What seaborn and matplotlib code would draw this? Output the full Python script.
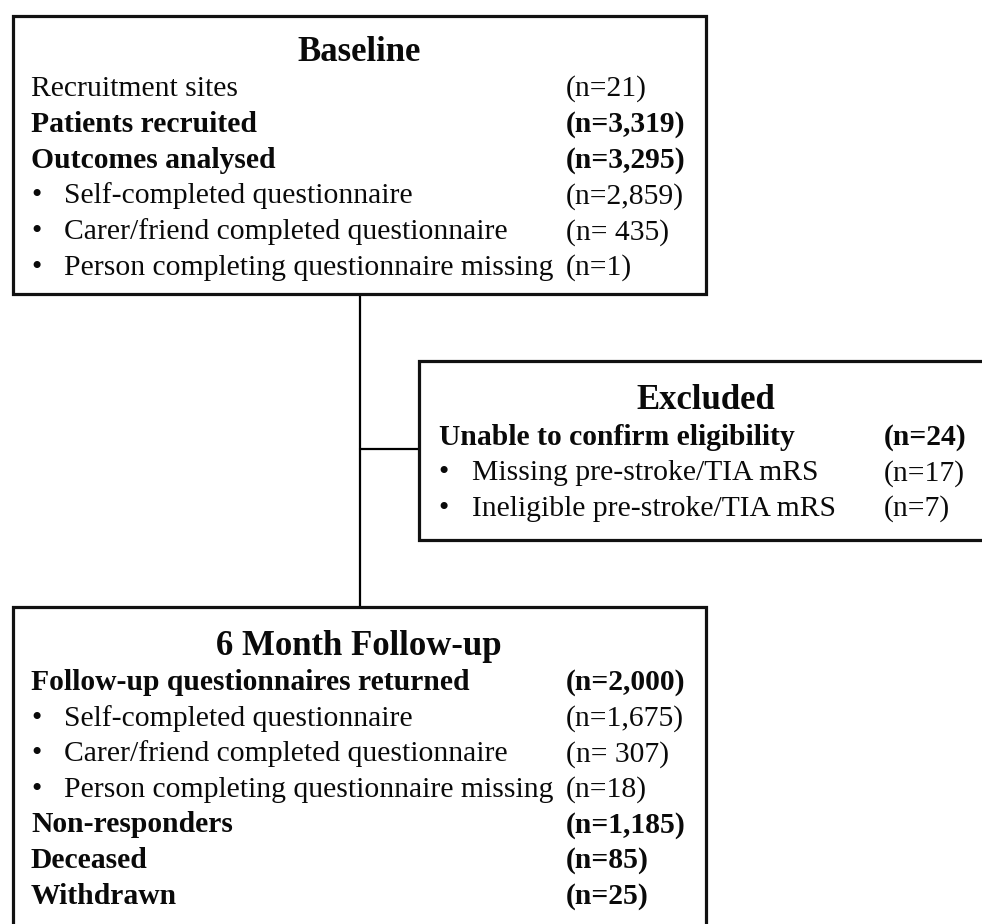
import matplotlib
matplotlib.use("Agg")
import matplotlib.pyplot as plt
from matplotlib.patches import Rectangle
import seaborn as sns
import pandas as pd

# ---------------- data ----------------
baseline_title = "Baseline"
baseline_labels = ["Recruitment sites", "Patients recruited", "Outcomes analysed",
                   "Self-completed questionnaire", "Carer/friend completed questionnaire",
                   "Person completing questionnaire missing"]
baseline_counts = ["(n=21)", "(n=3,319)", "(n=3,295)", "(n=2,859)", "(n= 435)", "(n=1)"]
baseline_bold = [False, True, True, False, False, False]
baseline_bullet = [False, False, False, True, True, True]

excluded_title = "Excluded"
excluded_labels = ["Unable to confirm eligibility", "Missing pre-stroke/TIA mRS",
                   "Ineligible pre-stroke/TIA mRS"]
excluded_counts = ["(n=24)", "(n=17)", "(n=7)"]
excluded_bold = [True, False, False]
excluded_bullet = [False, True, True]

followup_title = "6 Month Follow-up"
followup_labels = ["Follow-up questionnaires returned", "Self-completed questionnaire",
                   "Carer/friend completed questionnaire",
                   "Person completing questionnaire missing", "Non-responders",
                   "Deceased", "Withdrawn"]
followup_counts = ["(n=2,000)", "(n=1,675)", "(n= 307)", "(n=18)", "(n=1,185)",
                   "(n=85)", "(n=25)"]
followup_bold = [True, False, False, False, True, True, True]
followup_bullet = [False, True, True, True, False, False, False]

# ---------------- figure ----------------
sns.set_theme(style="white")
plt.rcParams["font.family"] = ["Liberation Serif", "DejaVu Serif"]

W, H = 982, 924
fig = plt.figure(figsize=(W / 100, H / 100), dpi=100)
ax = fig.add_axes([0, 0, 1, 1])

FS = 21.3
TFS = 25

# connectors via seaborn
conn = pd.DataFrame({"x": [360, 360], "y": [294, 607]})
sns.lineplot(data=conn, x="x", y="y", ax=ax, color="black", linewidth=1.6,
             sort=False, estimator=None, legend=False)
branch = pd.DataFrame({"x": [360, 419], "y": [449, 449]})
sns.lineplot(data=branch, x="x", y="y", ax=ax, color="black", linewidth=1.6,
             sort=False, estimator=None, legend=False)
ax.set_xlim(0, W)
ax.set_ylim(H, 0)
ax.axis("off")


def box(x0, y0, x1, y1):
    ax.add_patch(Rectangle((x0, y0), x1 - x0, y1 - y0, fill=True, facecolor="white",
                           edgecolor="#111111", linewidth=2.3, zorder=3))


def block(title, tx, ty, labels, counts, bold, bullet, x_text, x_bul, x_bul_text,
          x_count, y0, dy):
    ax.text(tx, ty, title, ha="center", va="baseline", fontsize=TFS,
            fontweight="bold", color="#0a0a0a", zorder=5)
    for i, (lab, cnt, b, bu) in enumerate(zip(labels, counts, bold, bullet)):
        y = y0 + i * dy
        w = "bold" if b else "normal"
        if bu:
            ax.text(x_bul, y, "\u2022", ha="left", va="baseline", fontsize=FS,
                    color="#0a0a0a", zorder=5)
            ax.text(x_bul_text, y, lab, ha="left", va="baseline", fontsize=FS,
                    fontweight=w, color="#0a0a0a", zorder=5)
        else:
            ax.text(x_text, y, lab, ha="left", va="baseline", fontsize=FS,
                    fontweight=w, color="#0a0a0a", zorder=5)
        ax.text(x_count, y, cnt, ha="left", va="baseline", fontsize=FS,
                fontweight=w, color="#0a0a0a", zorder=5)


box(13, 16, 706, 294)
block(baseline_title, 359, 61, baseline_labels, baseline_counts, baseline_bold,
      baseline_bullet, 31, 31, 64, 566, 96, 35.8)

box(419, 361, 995, 540)
block(excluded_title, 706, 409, excluded_labels, excluded_counts, excluded_bold,
      excluded_bullet, 439, 438, 472, 884, 445, 35.3)

box(13, 607, 706, 960)
block(followup_title, 359, 655, followup_labels, followup_counts, followup_bold,
      followup_bullet, 31, 31, 64, 566, 690, 35.6)

fig.savefig("out.png", dpi=100, facecolor="white")
